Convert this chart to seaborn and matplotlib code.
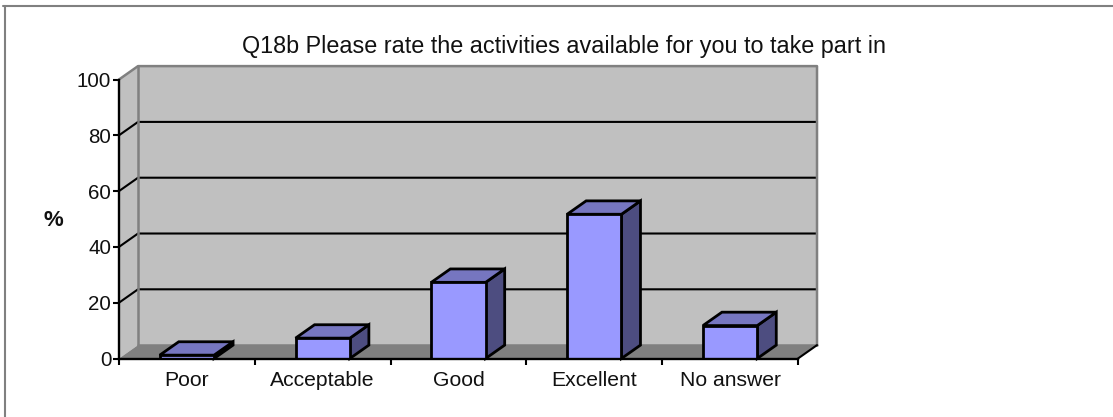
import matplotlib
matplotlib.use('Agg')
import matplotlib.pyplot as plt
import numpy as np
import pandas as pd
import seaborn as sns
from matplotlib.patches import Polygon
from matplotlib.lines import Line2D

categories = ["Poor", "Acceptable", "Good", "Excellent", "No answer"]
values = [1.2, 7.3, 27.3, 51.7, 11.8]
y_ticks = [0, 20, 40, 60, 80, 100]
title = "Q18b Please rate the activities available for you to take part in"

W, H = 1113, 417
# position du graphe en pixels
LEFT, RIGHT, TOP, BOTTOM = 119, 798, 79.5, 358.5
DEPTH_X = 0.14   # profondeur 3D en unites de categories
DEPTH_Y = 4.8    # profondeur 3D en %

sns.set_style("white")
plt.rcParams['font.family'] = ['Liberation Sans', 'DejaVu Sans']

fig = plt.figure(figsize=(W / 100, H / 100), dpi=100)
ax = fig.add_axes([LEFT / W, 1 - BOTTOM / H, (RIGHT - LEFT) / W, (BOTTOM - TOP) / H])

df = pd.DataFrame({"cat": categories, "val": values})
sns.barplot(data=df, x="cat", y="val", color="#9999ff", saturation=1, width=0.4,
            edgecolor="black", linewidth=2, ax=ax, zorder=5)
ax.set_xlim(-0.5, len(categories) - 0.5)
ax.set_ylim(0, 100)

x0, x1 = ax.get_xlim()
ymax = y_ticks[-1]
bars = list(ax.patches)


def face(points, color, z, edge="none", lw=0):
    ax.add_patch(Polygon(points, closed=True, facecolor=color, edgecolor=edge, linewidth=lw,
                         clip_on=False, zorder=z, joinstyle="miter"))


# murs et sol
face([(x0 + DEPTH_X, DEPTH_Y), (x1 + DEPTH_X, DEPTH_Y), (x1 + DEPTH_X, ymax + DEPTH_Y), (x0 + DEPTH_X, ymax + DEPTH_Y)], "#c0c0c0", 1)
face([(x0, 0), (x0 + DEPTH_X, DEPTH_Y), (x0 + DEPTH_X, ymax + DEPTH_Y), (x0, ymax)], "#c0c0c0", 1)
face([(x0, 0), (x1, 0), (x1 + DEPTH_X, DEPTH_Y), (x0 + DEPTH_X, DEPTH_Y)], "#808080", 1)

# lignes de grille
for t in y_ticks[1:-1]:
    ax.add_line(Line2D([x0, x0 + DEPTH_X, x1 + DEPTH_X], [t, t + DEPTH_Y, t + DEPTH_Y],
                       color="black", lw=1.5, clip_on=False, zorder=2))

# bord gris du mur
for xs, ys in [([x0, x0 + DEPTH_X, x1 + DEPTH_X, x1 + DEPTH_X], [ymax, ymax + DEPTH_Y, ymax + DEPTH_Y, DEPTH_Y]),
               ([x0 + DEPTH_X, x0 + DEPTH_X], [DEPTH_Y, ymax + DEPTH_Y]),
               ([x0 + DEPTH_X, x1 + DEPTH_X], [DEPTH_Y, DEPTH_Y])]:
    ax.add_line(Line2D(xs, ys, color="#808080", lw=1.8, clip_on=False, zorder=3))
ax.add_line(Line2D([x1, x1 + DEPTH_X], [0, DEPTH_Y], color="black", lw=1.5, clip_on=False, zorder=3))

# faces 3D des barres
for bar in bars:
    bx0, bx1 = bar.get_x(), bar.get_x() + bar.get_width()
    h = bar.get_height()
    face([(bx1, 0), (bx1 + DEPTH_X, DEPTH_Y), (bx1 + DEPTH_X, h + DEPTH_Y), (bx1, h)], "#4d4d80", 4, "black", 2)
    face([(bx0, h), (bx1, h), (bx1 + DEPTH_X, h + DEPTH_Y), (bx0 + DEPTH_X, h + DEPTH_Y)], "#7676c0", 4, "black", 2)

ax.set_xticks(np.arange(len(categories) + 1) - 0.5, minor=True)
ax.set_xticks(np.arange(len(categories)))
ax.set_xticklabels(categories, fontsize=15.2)
ax.set_yticks(y_ticks)
ax.set_yticklabels(y_ticks, fontsize=14.8)
ax.tick_params(axis="x", which="major", length=0, pad=9)
ax.tick_params(axis="x", which="minor", length=4.5, width=1.5, color="black", direction="out", bottom=True)
ax.tick_params(axis="y", length=4.5, width=1.5, color="black", left=True, pad=1)
ax.tick_params(axis="both", labelcolor="#111111")
ax.set_xlabel("")
ax.set_ylabel("")
for side in ["top", "right"]:
    ax.spines[side].set_visible(False)
for side in ["left", "bottom"]:
    ax.spines[side].set_visible(True)
    ax.spines[side].set_color("black")
    ax.spines[side].set_linewidth(1.7)
    ax.spines[side].set_zorder(6)

fig.text(53 / W, 1 - 220 / H, "%", fontsize=16, fontweight="bold", color="#111111", ha="center", va="center")
fig.text(563.5 / W, 1 - 53 / H, title, fontsize=16.85, color="#111111", ha="center", va="baseline")

# cadre gris
fig.add_artist(Line2D([3 / W, 1], [1 - 5.5 / H, 1 - 5.5 / H], color="#808080", lw=1.5))
fig.add_artist(Line2D([5 / W, 5 / W], [0, 1 - 5.5 / H], color="#808080", lw=1.5))

fig.savefig("out.png", dpi=100)
plt.close()
